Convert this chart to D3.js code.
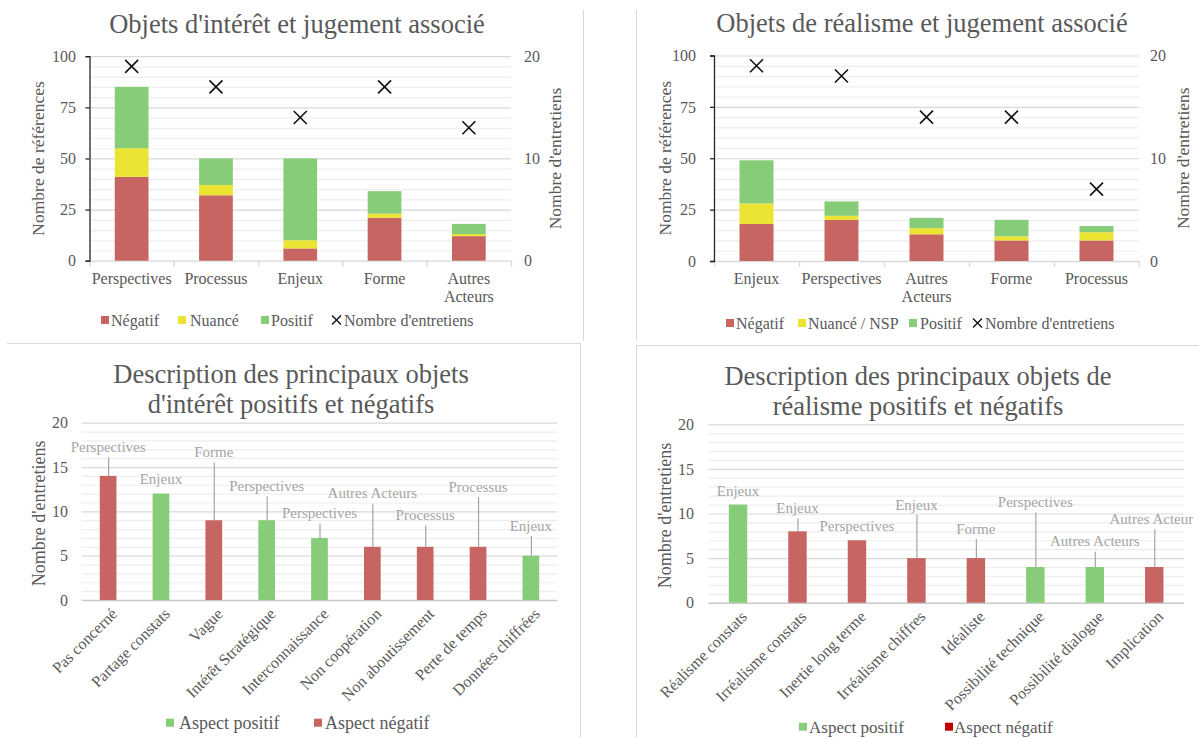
<!DOCTYPE html>
<html><head><meta charset="utf-8">
<script src="https://cdn.jsdelivr.net/npm/d3@7"></script>
<style>
body{margin:0;background:#fff}
svg{display:block}
text{font-family:"Liberation Serif","Times New Roman",serif}
</style>
</head><body>
<svg id="chart" width="1199" height="738"></svg>
<script>
// ---------- DATA ----------
// Panel 1 : Objets d'intérêt
const p1Categories = ["Perspectives", "Processus", "Enjeux", "Forme", "Autres Acteurs"];
const p1Negatif = [41, 32, 6, 21, 12];
const p1Nuance = [14, 5, 4, 2, 1];
const p1Positif = [30, 13, 40, 11, 5];
const p1Entretiens = [19, 17, 14, 17, 13];
// Panel 2 : Objets de réalisme
const p2Categories = ["Enjeux", "Perspectives", "Autres Acteurs", "Forme", "Processus"];
const p2Negatif = [18, 20, 13, 10, 10];
const p2Nuance = [10, 2, 3, 2, 4];
const p2Positif = [21, 7, 5, 8, 3];
const p2Entretiens = [19, 18, 14, 14, 7];
const refTicks = [0, 25, 50, 75, 100];
const entTicks = [0, 10, 20];
// Panel 3 : intérêt positifs / négatifs
const p3Categories = ["Pas concerné", "Partage constats", "Vague", "Intérêt Stratégique", "Interconnaissance",
  "Non coopération", "Non aboutissement", "Perte de temps", "Données chiffrées"];
const p3Values = [14, 12, 9, 9, 7, 6, 6, 6, 5];
const p3Aspect = ["neg", "pos", "neg", "pos", "pos", "neg", "neg", "neg", "pos"];
const p3Objets = ["Perspectives", "Enjeux", "Forme", "Perspectives", "Perspectives", "Autres Acteurs", "Processus", "Processus", "Enjeux"];
const p3LabelAt = [17.3, 13.7, 16.7, 12.9, 9.8, 12.05, 9.6, 12.8, 8.4];
// Panel 4 : réalisme positifs / négatifs
const p4Categories = ["Réalisme constats", "Irréalisme constats", "Inertie long terme", "Irréalisme chiffres",
  "Idéaliste", "Possibilité technique", "Possibilité dialogue", "Implication"];
const p4Values = [11, 8, 7, 5, 5, 4, 4, 4];
const p4Aspect = ["pos", "neg", "neg", "neg", "neg", "pos", "pos", "neg"];
const p4Objets = ["Enjeux", "Enjeux", "Perspectives", "Enjeux", "Forme", "Perspectives", "Autres Acteurs", "Autres Acteurs"];
const p4LabelAt = [12.6, 10.65, 8.67, 11.0, 8.3, 11.3, 6.9, 9.4];
const countTicks = [0, 5, 10, 15, 20];

// ---------- STYLE ----------
const C = {neg: "#c76563", nua: "#ece432", pos: "#87cc78", txt: "#595959", lbl: "#a5a5a5",
  gridMajor: "#d9d9d9", gridMinor: "#eeeeee", border: "#d9d9d9"};
const svg = d3.select("#chart");

function txt(g, s, x, y, size, opts = {}) {
  return g.append("text").attr("x", x).attr("y", y).attr("font-size", size)
    .attr("fill", opts.fill || C.txt).attr("text-anchor", opts.anchor || "middle").text(s);
}

// ---------- panel borders ----------
const borders = svg.append("g").attr("stroke", C.border).attr("stroke-width", 1);
borders.append("line").attr("x1", 583.5).attr("x2", 583.5).attr("y1", 10).attr("y2", 341);
borders.append("line").attr("x1", 636.5).attr("x2", 636.5).attr("y1", 10).attr("y2", 341);
borders.append("line").attr("x1", 7).attr("x2", 580).attr("y1", 343.5).attr("y2", 343.5);
borders.append("line").attr("x1", 580.5).attr("x2", 580.5).attr("y1", 343).attr("y2", 738);
borders.append("line").attr("x1", 636).attr("x2", 1199).attr("y1", 345.5).attr("y2", 345.5);
borders.append("line").attr("x1", 636.5).attr("x2", 636.5).attr("y1", 345).attr("y2", 738);

// ---------- stacked panel ----------
function stackedPanel(cfg) {
  const g = svg.append("g");
  const rows = cfg.categories.map((c, i) => ({cat: c, neg: cfg.neg[i], nua: cfg.nua[i], pos: cfg.pos[i], ent: cfg.ent[i]}));
  const x = d3.scaleBand().domain(cfg.categories).range([cfg.x0, cfg.x1]).paddingInner(0.6).paddingOuter(0.3);
  const step = x.step();
  const y = d3.scaleLinear().domain([0, 100]).range([cfg.y0, cfg.y100]);
  const y2 = d3.scaleLinear().domain([0, 20]).range([cfg.y0, cfg.y100]);

  // title
  txt(g, cfg.title, cfg.titleX, cfg.titleY, 26.5);

  // gridlines
  g.append("g").selectAll("line").data(d3.range(5, 101, 5)).join("line")
    .attr("x1", cfg.x0).attr("x2", cfg.x1).attr("y1", d => y(d) + 0.5).attr("y2", d => y(d) + 0.5)
    .attr("stroke", d => d % 25 === 0 ? C.gridMajor : C.gridMinor).attr("stroke-width", 1.2);

  // x axis with boundary ticks
  const xb = d3.scaleLinear().domain([0, cfg.categories.length]).range([cfg.x0, cfg.x1]);
  const xa = g.append("g").attr("transform", `translate(0,${cfg.y0})`)
    .call(d3.axisBottom(xb).tickValues(d3.range(cfg.categories.length + 1)).tickFormat("").tickSize(6).tickSizeOuter(0));
  xa.selectAll("path,line").attr("stroke", C.gridMajor).attr("stroke-width", 1.3);

  // left axis
  const la = g.append("g").attr("transform", `translate(${cfg.x0},0)`)
    .call(d3.axisLeft(y).tickValues(refTicks).tickSize(4).tickSizeOuter(4).tickPadding(cfg.lpad));
  la.selectAll("path,line").attr("stroke", "#262626").attr("stroke-width", 1.3);
  la.selectAll("text").attr("font-size", 16).attr("fill", C.txt).attr("font-family", "Liberation Serif");

  // right axis
  const ra = g.append("g").attr("transform", `translate(${cfg.x1},0)`)
    .call(d3.axisRight(y2).tickValues(entTicks).tickSize(0).tickPadding(cfg.rpad));
  ra.select(".domain").remove();
  ra.selectAll("text").attr("font-size", 16).attr("fill", C.txt).attr("font-family", "Liberation Serif");

  // axis titles
  g.append("text").attr("transform", `translate(${cfg.ltX},${(cfg.y0 + cfg.y100) / 2}) rotate(-90)`)
    .attr("text-anchor", "middle").attr("dy", "0.35em").attr("font-size", 17.5).attr("fill", C.txt).text("Nombre de références");
  g.append("text").attr("transform", `translate(${cfg.rtX},${(cfg.y0 + cfg.y100) / 2}) rotate(-90)`)
    .attr("text-anchor", "middle").attr("dy", "0.35em").attr("font-size", 17.5).attr("fill", C.txt).text("Nombre d'entretiens");

  // stacked bars
  const series = d3.stack().keys(["neg", "nua", "pos"])(rows);
  g.append("g").selectAll("g").data(series).join("g").attr("fill", d => C[d.key])
    .selectAll("rect").data(d => d).join("rect")
    .attr("x", d => x(d.data.cat)).attr("width", x.bandwidth())
    .attr("y", d => y(d[1])).attr("height", d => y(d[0]) - y(d[1]));

  // markers
  g.append("g").selectAll("path").data(rows).join("path")
    .attr("transform", d => `translate(${x(d.cat) + x.bandwidth() / 2},${y2(d.ent)})`)
    .attr("d", "M-6.5,-6.5L6.5,6.5M6.5,-6.5L-6.5,6.5").attr("stroke", "#111").attr("stroke-width", 1.6).attr("fill", "none");

  // category labels (wrap if wider than band)
  rows.forEach(r => {
    const cx = x(r.cat) + x.bandwidth() / 2;
    const t = txt(g, r.cat, cx, cfg.y0 + 23, 16);
    if (t.node().getComputedTextLength() > step * 0.98) {
      t.text(null);
      r.cat.split(" ").forEach((w, i) => t.append("tspan").attr("x", cx).attr("dy", i ? 18 : 0).text(w));
    }
  });

  // legend
  const lg = g.append("g").attr("font-size", 16);
  cfg.legend.forEach(it => {
    if (it.key === "ent") {
      lg.append("path").attr("transform", `translate(${it.sx + 4.5},${cfg.legY})`)
        .attr("d", "M-4.5,-4.5L4.5,4.5M4.5,-4.5L-4.5,4.5").attr("stroke", "#111").attr("stroke-width", 1.4);
    } else {
      lg.append("rect").attr("x", it.sx).attr("y", cfg.legY - 4).attr("width", 8).attr("height", 8).attr("fill", C[it.key]);
    }
    txt(lg, it.label, it.tx, cfg.legY, 16, {anchor: "start"}).attr("dy", "0.35em");
  });
}

stackedPanel({
  categories: p1Categories, neg: p1Negatif, nua: p1Nuance, pos: p1Positif, ent: p1Entretiens,
  x0: 89.5, x1: 511, y0: 260.7, y100: 56.2, lpad: 9.5, rpad: 13,
  title: "Objets d'intérêt et jugement associé", titleX: 297, titleY: 32.5,
  ltX: 38, rtX: 555, legY: 320,
  legend: [{key: "neg", label: "Négatif", sx: 101, tx: 111}, {key: "nua", label: "Nuancé", sx: 178, tx: 190},
    {key: "pos", label: "Positif", sx: 261, tx: 271}, {key: "ent", label: "Nombre d'entretiens", sx: 332, tx: 344}]
});
stackedPanel({
  categories: p2Categories, neg: p2Negatif, nua: p2Nuance, pos: p2Positif, ent: p2Entretiens,
  x0: 714, x1: 1139, y0: 261, y100: 55.5, lpad: 14, rpad: 11,
  title: "Objets de réalisme et jugement associé", titleX: 922, titleY: 31.5,
  ltX: 665, rtX: 1183, legY: 323,
  legend: [{key: "neg", label: "Négatif", sx: 726, tx: 736}, {key: "nua", label: "Nuancé / NSP", sx: 798, tx: 808},
    {key: "pos", label: "Positif", sx: 909, tx: 920}, {key: "ent", label: "Nombre d'entretiens", sx: 973, tx: 985}]
});

// ---------- simple bar panel ----------
function barPanel(cfg) {
  const g = svg.append("g");
  if (cfg.clip) {
    svg.append("clipPath").attr("id", cfg.clip.id).append("rect")
      .attr("x", cfg.clip.x0).attr("y", 340).attr("width", cfg.clip.x1 - cfg.clip.x0).attr("height", 400);
    g.attr("clip-path", `url(#${cfg.clip.id})`);
  }
  const x = d3.scaleBand().domain(cfg.categories).range([cfg.x0, cfg.x1]).paddingInner(cfg.pad).paddingOuter(cfg.pad / 2);
  const y = d3.scaleLinear().domain([0, 20]).range([cfg.y0, cfg.y20]);

  cfg.title.forEach((line, i) => txt(g, line, cfg.titleX, cfg.titleY + i * 30, 26.5));

  g.append("g").selectAll("line").data(d3.range(0, 21, 1)).join("line")
    .attr("x1", cfg.x0).attr("x2", cfg.x1).attr("y1", d => y(d) + 0.5).attr("y2", d => y(d) + 0.5)
    .attr("stroke", d => d === 0 ? "#c8c8c8" : d % 5 === 0 ? C.gridMajor : C.gridMinor)
    .attr("stroke-width", d => d === 0 ? 1.5 : 1.2);

  const la = g.append("g").attr("transform", `translate(${cfg.x0},0)`)
    .call(d3.axisLeft(y).tickValues(countTicks).tickSize(0).tickPadding(cfg.lpad));
  la.select(".domain").remove();
  la.selectAll("text").attr("font-size", 16).attr("fill", C.txt).attr("font-family", "Liberation Serif");

  g.append("text").attr("transform", `translate(${cfg.ltX},${(cfg.y0 + cfg.y20) / 2 + 2}) rotate(-90)`)
    .attr("text-anchor", "middle").attr("dy", "0.35em").attr("font-size", 18).attr("fill", C.txt).text("Nombre d'entretiens");

  const rows = cfg.categories.map((c, i) => ({cat: c, v: cfg.values[i], a: cfg.aspect[i], o: cfg.objets[i], l: cfg.labelAt[i]}));
  const cx = d => x(d.cat) + x.bandwidth() / 2;

  g.append("g").selectAll("rect").data(rows).join("rect")
    .attr("x", d => x(d.cat)).attr("width", x.bandwidth())
    .attr("y", d => y(d.v)).attr("height", d => y(0) - y(d.v)).attr("fill", d => C[d.a]);

  // leader lines + data labels
  rows.forEach(d => {
    const top = y(d.l) + 10.5;
    if (y(d.v) - top > 6) {
      g.append("line").attr("x1", cx(d) + 0.5).attr("x2", cx(d) + 0.5).attr("y1", y(d.v)).attr("y2", top)
        .attr("stroke", C.lbl).attr("stroke-width", 1.2);
    }
    txt(g, d.o, cx(d), y(d.l), 15, {fill: C.lbl}).attr("dy", "0.35em");
  });

  // rotated category labels
  rows.forEach(d => {
    g.append("text").attr("transform", `translate(${cx(d) + 6},${cfg.y0 + 11}) rotate(-45)`)
      .attr("text-anchor", "end").attr("dy", "0.35em").attr("font-size", 16).attr("fill", C.txt).text(d.cat);
  });

  // legend
  cfg.legend.forEach(it => {
    g.append("rect").attr("x", it.sx).attr("y", cfg.legY - 4).attr("width", 8).attr("height", 8).attr("fill", it.color);
    txt(g, it.label, it.tx, cfg.legY, cfg.legSize, {anchor: "start"}).attr("dy", "0.35em");
  });
}

barPanel({
  categories: p3Categories, values: p3Values, aspect: p3Aspect, objets: p3Objets, labelAt: p3LabelAt,
  x0: 81.7, x1: 557.3, y0: 600, y20: 422.7, pad: 0.684, lpad: 13.7,
  title: ["Description des principaux objets", "d'intérêt positifs et négatifs"], titleX: 291, titleY: 383,
  ltX: 39, legY: 722.7, legSize: 18,
  legend: [{color: C.pos, label: "Aspect positif", sx: 166, tx: 179}, {color: C.neg, label: "Aspect négatif", sx: 314, tx: 325}]
});
barPanel({
  categories: p4Categories, values: p4Values, aspect: p4Aspect, objets: p4Objets, labelAt: p4LabelAt,
  x0: 708.3, x1: 1184, y0: 602.7, y20: 424.3, pad: 0.69, lpad: 14.3,
  title: ["Description des principaux objets de", "réalisme positifs et négatifs"], titleX: 918, titleY: 385,
  ltX: 665, legY: 726.7, legSize: 17, clip: {id: "clip4", x0: 637, x1: 1193},
  legend: [{color: C.pos, label: "Aspect positif", sx: 799, tx: 809}, {color: "#c00000", label: "Aspect négatif", sx: 945, tx: 954}]
});
</script>
</body></html>
